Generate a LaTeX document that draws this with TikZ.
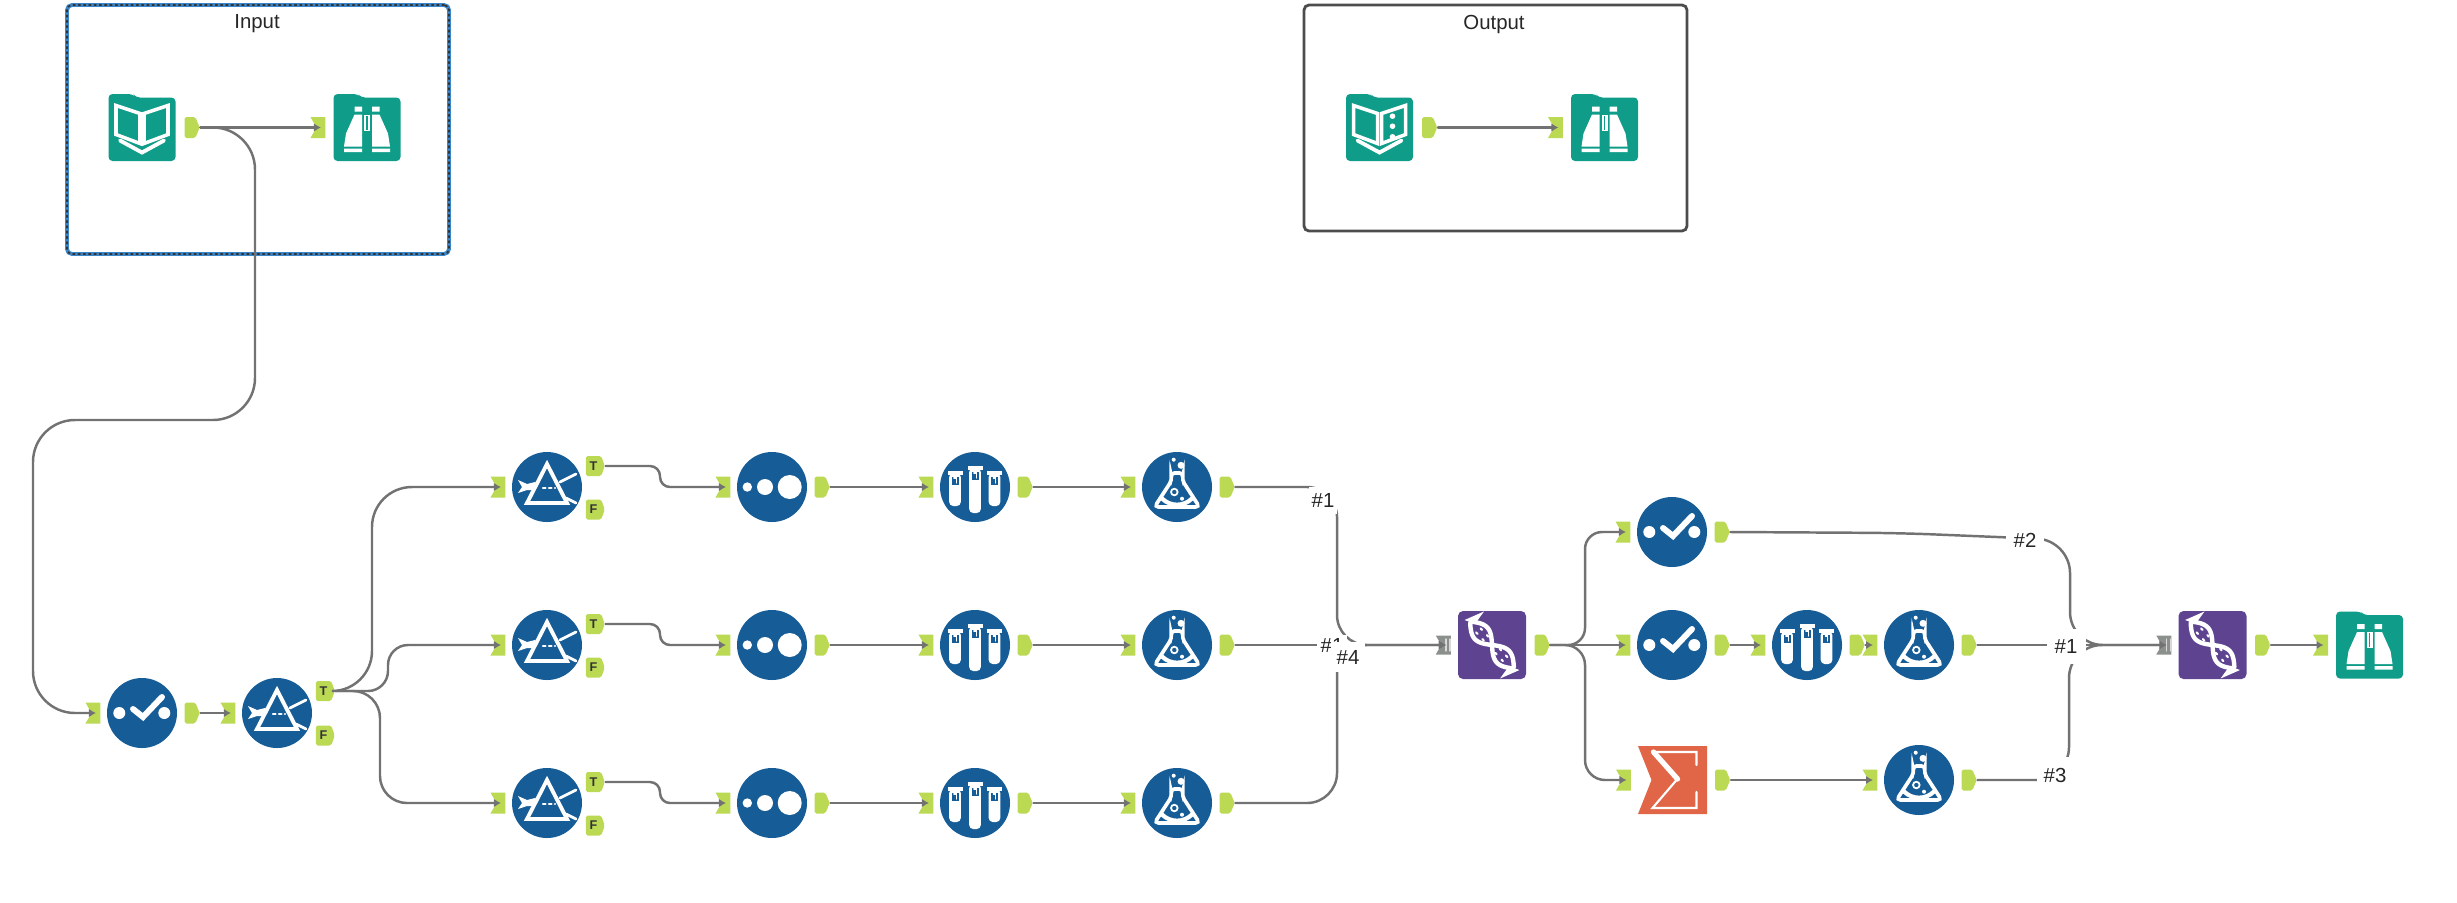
\documentclass[tikz,border=0pt]{standalone}
\usepackage{fontspec}
\setmainfont{Liberation Sans}
\usetikzlibrary{calc, arrows.meta, shapes.symbols}

\definecolor{toolblue}{HTML}{165C96}
\definecolor{toolteal}{HTML}{0F9D8A}
\definecolor{toolpurple}{HTML}{5E4391}
\definecolor{toolorange}{HTML}{E06647}
\definecolor{portgreen}{HTML}{BBD953}
\definecolor{portgray}{HTML}{8C908C}
\definecolor{wiregray}{HTML}{727272}
\definecolor{groupblue}{HTML}{3B86C9}

\tikzset{
	tool/.style = {circle, fill=toolblue, minimum size=0.7cm, inner sep=0},
	squaretool/.style = {rectangle, minimum size=0.68cm, inner sep=0},
	outport/.style = {signal, signal to=east, signal pointer angle=135, fill=portgreen, rounded corners=0.5pt,
		minimum width=0.15cm, minimum height=0.21cm, inner sep=0},
	inport/.style = {signal, signal to=nowhere, signal from=west, signal pointer angle=120, fill=portgreen,
		minimum width=0.15cm, minimum height=0.21cm, inner sep=0},
	multiport/.style = {inport, fill=portgray, minimum height=0.19cm},
	flagport/.style = {outport, minimum width=0.19cm, minimum height=0.2cm, signal pointer angle=140,
		font=\fontsize{3.6}{4}\selectfont\bfseries, text=black!80},
	wire/.style = {draw=wiregray, line width=0.7pt, -{Latex[length=2pt, width=2.4pt]}},
	title/.style = {inner sep=0, text=black!85, font=\fontsize{5.8}{7}\selectfont},
	hash/.style = {fill=white, inner sep=0, text=black!85, font=\fontsize{5.8}{7}\selectfont},
	group/.style = {rectangle, rounded corners=0.05cm, inner sep=0},
	select/.pic = {
		\fill[white] (-0.227,0) circle (0.06) (0.223,0) circle (0.06);
		\draw[white, line width=1.7pt] (-0.09,0.04) -- (0.01,-0.04) -- (0.2,0.16);
	},
	sampler/.pic = {
		\fill[white] (-0.247,0) circle (0.047) (-0.07,0) circle (0.08) (0.177,0) circle (0.12);
	},
	tubes/.pic = {
		\foreach \tx/\ty/\by in {-0.2/0.14/-0.19, 0/0.19/-0.26, 0.195/0.14/-0.19}{
			\fill[white, rounded corners=0.04cm] (\tx-0.058,\ty) rectangle (\tx+0.058,\by);
			\fill[white] (\tx-0.075,\ty+0.02) rectangle (\tx+0.075,\ty-0.015);
			\fill[toolblue] (\tx-0.035,\ty-0.035) rectangle (\tx+0.035,\ty-0.12);
			\draw[white, line width=0.35pt] (\tx-0.012,\ty-0.05) -- (\tx+0.012,\ty-0.05) -- (\tx+0.012,\ty-0.1);
		}
	},
	flask/.pic = {
		\draw[white, line width=1.05pt, rounded corners=0.04cm] (-0.065,0.14) -- (-0.05,0.07) -- (-0.225,-0.2)
			-- (0.225,-0.2) -- (0.05,0.07) -- (0.065,0.14) -- cycle;
		\fill[white] (0.04,0.217) circle (0.035) (-0.033,0.273) circle (0.02) (0.05,-0.117) circle (0.02);
		\draw[white, line width=0.5pt] (-0.027,-0.05) circle (0.033);
		\draw[white, line width=1.2pt] (-0.15,-0.115) to[bend right=45] (0.15,-0.115);
	},
	prism/.pic = {
		\draw[white, line width=1.1pt] (0,0.23) -- (-0.2,-0.16) -- (0.2,-0.16) -- cycle;
		\fill[white] (-0.29,0.07) -- (-0.2,0.03) -- (-0.12,0.05) -- (-0.12,-0.03) -- (-0.2,-0.03) -- (-0.29,-0.06) -- (-0.25,0) -- cycle;
		\draw[white, line width=0.8pt] (0.13,0.05) -- (0.29,0.13) (0.19,-0.11) -- (0.29,-0.16);
		\draw[white, line width=0.7pt, densely dotted] (-0.04,-0.01) -- (0.08,-0.01);
	},
	dna/.pic = {
		\fill[toolpurple, rounded corners=0.05cm] (-0.34,-0.34) rectangle (0.34,0.34);
		\begin{scope}[rotate=-47]
			\draw[white, line width=1.25pt] plot[domain=-0.31:0.31, samples=40, smooth] (\x,{0.085*sin(\x*560)});
			\draw[white, line width=1.25pt] plot[domain=-0.31:0.31, samples=40, smooth] (\x,{-0.085*sin(\x*560)});
			\fill[white] (-0.3,0.17) -- (-0.37,-0.03) -- (-0.27,0.02) -- cycle;
			\fill[white] (0.3,-0.17) -- (0.37,0.03) -- (0.27,-0.02) -- cycle;
			\draw[white, line width=0.6pt, dotted] (-0.2,0.03) -- (-0.08,0.03) (-0.2,-0.03) -- (-0.08,-0.03)
				(0.08,0.03) -- (0.2,0.03) (0.08,-0.03) -- (0.2,-0.03);
		\end{scope}
	},
	sum/.pic = {
		\fill[toolorange] (-0.345,0.34) -- (0.345,0.34) -- (0.345,-0.34) -- (-0.345,-0.34) -- (-0.21,0) -- cycle;
		\draw[white, line width=0.6pt] (-0.2,0.28) -- (0.24,0.28) -- (0.24,0.15) (0.04,0) -- (-0.2,-0.28) -- (0.24,-0.28) -- (0.24,-0.12);
		\draw[white, line width=1.5pt] (-0.19,0.28) -- (0.05,0.01);
	},
	folder/.pic = {
		\fill[toolteal, rounded corners=0.04cm] (-0.335,-0.335) -- (-0.335,0.335) -- (-0.09,0.335) -- (-0.06,0.3) -- (0.335,0.3) -- (0.335,-0.335) -- cycle;
	},
	bookin/.pic = {
		\pic {folder};
		\draw[white, line width=1pt] (-0.02,0.14) -- (-0.26,0.22) -- (-0.26,-0.07) -- (-0.02,-0.16) -- cycle;
		\draw[white, line width=1pt] (0.02,0.14) -- (0.26,0.22) -- (0.26,-0.07) -- (0.02,-0.16) -- cycle;
		\draw[white, line width=1.1pt] (-0.22,-0.13) -- (0,-0.25) -- (0.22,-0.13);
	},
	bookout/.pic = {
		\pic {bookin};
		\fill[white] (0.13,0.113) circle (0.028) (0.13,0.013) circle (0.028) (0.13,-0.093) circle (0.028);
	},
	browse/.pic = {
		\pic {folder};
		\fill[white] (-0.125,0.21) rectangle (-0.05,0.16) (0.05,0.21) rectangle (0.125,0.16);
		\fill[white] (-0.125,0.13) -- (-0.05,0.13) -- (-0.05,-0.19) -- (-0.23,-0.19) -- (-0.21,-0.06) -- cycle;
		\fill[white] (0.125,0.13) -- (0.05,0.13) -- (0.05,-0.19) -- (0.23,-0.19) -- (0.21,-0.06) -- cycle;
		\fill[white] (-0.03,0.13) rectangle (0.03,-0.03);
		\fill[toolteal] (-0.008,0.12) rectangle (0.008,-0.02);
		\fill[white] (-0.23,-0.21) rectangle (-0.05,-0.245) (0.05,-0.21) rectangle (0.23,-0.245);
	},
}

\begin{document}
\begin{tikzpicture}[line cap = round]
	\useasboundingbox (0,0) rectangle (24.57,9.02);
	
	% containers
	\node[group, minimum width=3.82cm, minimum height=2.49cm, draw=black!80, densely dotted, line width=0.5pt,
		preaction={draw=groupblue, solid, line width=1.1pt}] (inputBox) at (2.58,7.725) {};
	\node[group, minimum width=3.83cm, minimum height=2.26cm, draw=black!70, line width=0.8pt] (outputBox) at (14.955,7.84) {};
	\node[title] (inputTitle) at (2.57,8.78) {Input};
	\node[title] (outputTitle) at (14.94,8.78) {Output};
	
	% three parallel rows
	\foreach \row/\y in {A/4.15, B/2.57, C/0.99}{
		\node[tool] (prism\row) at (5.47,\y) {};
		\pic at (prism\row) {prism};
		\node[inport] (prism\row-i) at ($(prism\row)+(-0.46,0)$) {};
		\node[flagport] (prism\row-t) at ($(prism\row)+(0.465,0.21)$) {T};
		\node[flagport] (prism\row-f) at ($(prism\row)+(0.465,-0.225)$) {F};
		\foreach \kind/\x in {sampler/7.72, tubes/9.75, flask/11.77}{
			\node[tool] (\kind\row) at (\x,\y) {};
			\pic at (\kind\row) {\kind};
			\node[inport] (\kind\row-i) at ($(\kind\row)+(-0.46,0)$) {};
			\node[outport] (\kind\row-o) at ($(\kind\row)+(0.48,0)$) {};
		}
	}
	
	% single tools
	\foreach \name/\kind/\x/\y in {selectD/select/1.42/1.89, selectE/select/16.72/3.70, selectF/select/16.72/2.57,
		tubesF/tubes/18.07/2.57, flaskF/flask/19.19/2.57, flaskG/flask/19.19/1.22}{
		\node[tool] (\name) at (\x,\y) {};
		\pic at (\name) {\kind};
		\node[inport] (\name-i) at ($(\name)+(-0.46,0)$) {};
		\node[outport] (\name-o) at ($(\name)+(0.48,0)$) {};
	}
	\node[tool] (prismD) at (2.77,1.89) {};
	\pic at (prismD) {prism};
	\node[inport] (prismD-i) at ($(prismD)+(-0.46,0)$) {};
	\node[flagport] (prismD-t) at ($(prismD)+(0.465,0.22)$) {T};
	\node[flagport] (prismD-f) at ($(prismD)+(0.465,-0.225)$) {F};
	
	\node[squaretool] (sumG) at (16.725,1.22) {};
	\pic at (sumG) {sum};
	\node[inport] (sumG-i) at ($(sumG)+(-0.46,0)$) {};
	\node[outport] (sumG-o) at ($(sumG)+(0.48,0)$) {};
	
	\foreach \name/\x in {dnaA/14.92, dnaB/22.125}{
		\node[squaretool] (\name) at (\x,2.57) {};
		\pic at (\name) {dna};
		\node[multiport] (\name-i) at ($(\name)+(-0.46,0)$) {};
		\node[outport] (\name-o) at ($(\name)+(0.48,0)$) {};
		\draw[black!15, line width=0.4pt] ($(\name-i)+(0,0.06)$) -- ($(\name-i)+(0,-0.06)$);
		\draw[black!15, line width=0.4pt] ($(\name-i)+(0.04,0.06)$) -- ($(\name-i)+(0.04,-0.06)$);
	}
	
	\foreach \name/\kind/\x/\y in {bookA/bookin/1.42/7.745, bookB/bookout/13.795/7.745}{
		\node[squaretool] (\name) at (\x,\y) {};
		\pic at (\name) {\kind};
		\node[outport] (\name-o) at ($(\name)+(0.48,0)$) {};
	}
	\foreach \name/\x/\y in {browseA/3.67/7.745, browseB/16.045/7.745, browseC/23.695/2.57}{
		\node[squaretool] (\name) at (\x,\y) {};
		\pic at (\name) {browse};
		\node[inport] (\name-i) at ($(\name)+(-0.46,0)$) {};
	}
	
	% connectors
	\draw[wire] (bookA-o.east) -- (browseA-i.center);
	\draw[wire] (bookB-o.east) -- (browseB-i.center);
	\draw[wire, rounded corners=0.42cm] (bookA-o.east) -- (2.55,7.745) -- (2.55,4.82) -- (0.33,4.82) -- (0.33,1.89) -- (selectD-i.center);
	\draw[wire] (selectD-o.east) -- (prismD-i.center);
	\draw[wire, rounded corners=0.4cm] (prismD-t.east) -- (3.72,2.11) -- (3.72,4.15) -- (prismA-i.center);
	\draw[wire, rounded corners=0.2cm] (prismD-t.east) -- (3.88,2.11) -- (3.88,2.57) -- (prismB-i.center);
	\draw[wire, rounded corners=0.27cm] (prismD-t.east) -- (3.8,2.11) -- (3.8,0.99) -- (prismC-i.center);
	
	\foreach \row/\y in {A/4.15, B/2.57, C/0.99}{
		\draw[wire, rounded corners=0.1cm] (prism\row-t.east) -- (6.6,\y+0.21) -- (6.6,\y) -- (sampler\row-i.center);
		\draw[wire] (sampler\row-o.east) -- (tubes\row-i.center);
		\draw[wire] (tubes\row-o.east) -- (flask\row-i.center);
	}
	\draw[wire, rounded corners=0.3cm] (flaskA-o.east) -- (13.37,4.15) -- (13.37,2.57) -- (dnaA-i.center);
	\draw[wire] (flaskB-o.east) -- (dnaA-i.center);
	\draw[wire, rounded corners=0.3cm] (flaskC-o.east) -- (13.37,0.99) -- (13.37,2.57) -- (dnaA-i.center);
	
	\draw[wire, rounded corners=0.17cm] (dnaA-o.east) -- (15.85,2.57) -- (15.85,3.70) -- (selectE-i.center);
	\draw[wire] (dnaA-o.east) -- (selectF-i.center);
	\draw[wire, rounded corners=0.2cm] (dnaA-o.east) -- (15.85,2.57) -- (15.85,1.22) -- (sumG-i.center);
	\draw[wire] (selectF-o.east) -- (tubesF-i.center);
	\draw[wire] (tubesF-o.east) -- (flaskF-i.center);
	\draw[wire] (sumG-o.east) -- (flaskG-i.center);
	
	\draw[wire, rounded corners=0.33cm] (selectE-o.east) -- (19,3.69) -- (20.7,3.62) -- (20.7,2.57) -- (dnaB-i.center);
	\draw[wire] (flaskF-o.east) -- (dnaB-i.center);
	\draw[wire, rounded corners=0.33cm] (flaskG-o.east) -- (20.69,1.22) -- (20.69,2.57) -- (dnaB-i.center);
	\draw[wire] (dnaB-o.east) -- (browseC-i.center);
	
	% record labels
	\node[hash, minimum width=0.28cm, minimum height=0.27cm] (hashA) at (13.23,4.02) {\#1};
	\node[hash, minimum width=0.30cm, minimum height=0.2cm] (hashB) at (13.32,2.57) {\#1};
	\node[hash, minimum width=0.34cm, minimum height=0.3cm] (hashC) at (13.48,2.45) {\#4};
	\node[hash, minimum width=0.38cm, minimum height=0.26cm] (hashD) at (20.25,3.62) {\#2};
	\node[hash, minimum width=0.39cm, minimum height=0.35cm] (hashE) at (20.66,2.56) {\#1};
	\node[hash, minimum width=0.36cm, minimum height=0.36cm] (hashF) at (20.55,1.27) {\#3};
\end{tikzpicture}
\end{document}
